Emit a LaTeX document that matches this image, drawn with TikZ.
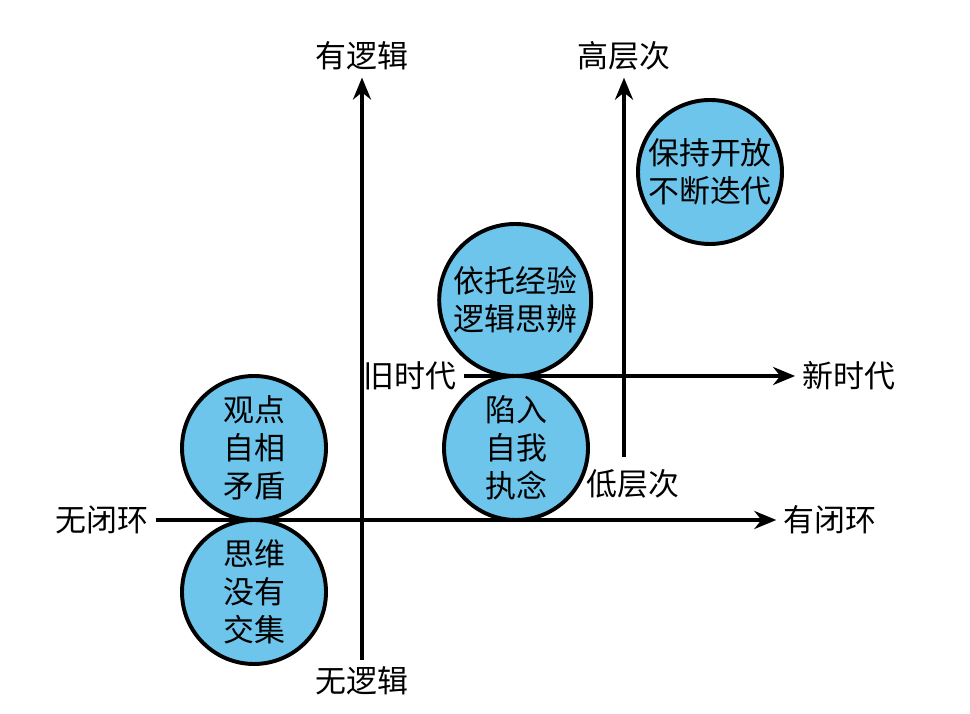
\documentclass[tikz,border=0pt]{standalone}
\usepackage{fontspec}
\setmainfont{Noto Sans CJK SC}
\usetikzlibrary{arrows.meta}
\definecolor{bubblue}{RGB}{110,197,235}
\begin{document}
\begin{tikzpicture}[>={Stealth[length=5.5mm,width=4.5mm]},
    axis/.style={line width=3.5pt,->},
    bubble/.style={circle,draw,line width=2.8pt,fill=bubblue,inner sep=-6mm,minimum size=3.6cm,align=center},
    lbl/.style={inner sep=5pt},
    font=\fontsize{22pt}{27pt}\selectfont]
\useasboundingbox(0,0)rectangle(24.25,17.85);
% the circles
\node[bubble](guandian) at (6.35,6.65){观点\\自相\\矛盾};
\node[bubble](siwei) at (6.35,3.05){思维\\没有\\交集};
\node[bubble,minimum size=3.8cm](yituo) at (12.88,10.35){依托经验\\逻辑思辨};
\node[bubble](xianru) at (12.9,6.65){陷入\\自我\\执念};
\node[bubble](baochi) at (17.75,13.55){保持开放\\不断迭代};
% closed loop / logic
\node[lbl](wubihuan) at (2.55,4.85){无闭环};
\node[lbl](youbihuan) at (20.75,4.85){有闭环};
\draw[axis](wubihuan)--(youbihuan);
\node[lbl](wuluoji) at (9.05,0.82){无逻辑};
\node[lbl](youluoji) at (9.05,16.45){有逻辑};
\draw[axis](wuluoji)--(youluoji);
% era / level
\node[lbl](jiushidai) at (10.25,8.45){旧时代};
\node[lbl](xinshidai) at (21.22,8.45){新时代};
\draw[axis](jiushidai)--(xinshidai);
\coordinate(dibottom) at (15.6,6.43);
\node[lbl](gaocengci) at (15.6,16.45){高层次};
\node[lbl](dicengci) at (15.82,5.75){低层次};
\draw[axis](dibottom)--(gaocengci);
\end{tikzpicture}
\end{document}
